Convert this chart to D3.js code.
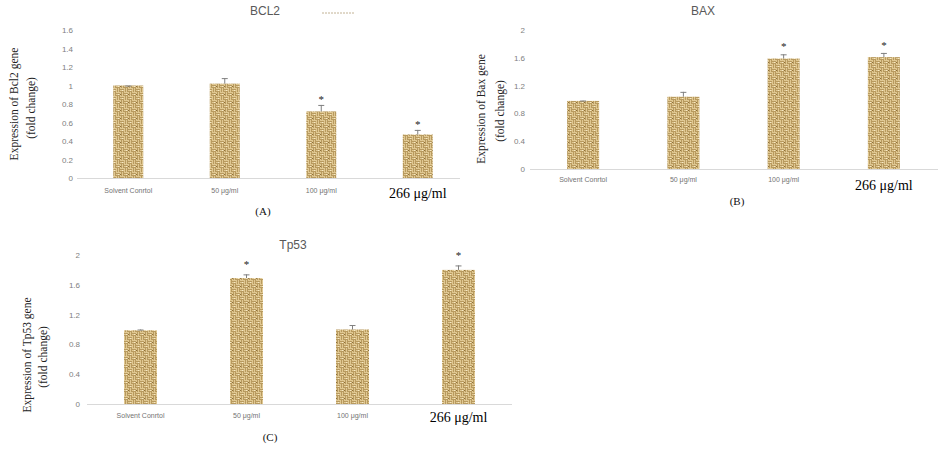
<!DOCTYPE html>
<html>
<head>
<meta charset="utf-8">
<script src="https://cdn.jsdelivr.net/npm/d3@7"></script>
<style>
  html, body { margin: 0; padding: 0; background: #fff; }
  svg { display: block; }
</style>
</head>
<body>
<svg id="chart" width="939" height="450"></svg>
<script>
// ---------- data ----------
const categories = ["Solvent Conrtol", "50 μg/ml", "100 μg/ml", "266 μg/ml"];

const bcl2Values = [1.0, 1.02, 0.72, 0.47];
const bcl2Errors = [0.0, 0.06, 0.07, 0.05];
const bcl2Signif = [false, false, true, true];
const bcl2Ticks  = [0, 0.2, 0.4, 0.6, 0.8, 1, 1.2, 1.4, 1.6];

const baxValues = [0.98, 1.04, 1.59, 1.61];
const baxErrors = [0.005, 0.07, 0.06, 0.06];
const baxSignif = [false, false, true, true];
const baxTicks  = [0, 0.4, 0.8, 1.2, 1.6, 2];

const tp53Values = [0.99, 1.69, 1.0, 1.80];
const tp53Errors = [0.01, 0.05, 0.06, 0.06];
const tp53Signif = [false, true, false, true];
const tp53Ticks  = [0, 0.4, 0.8, 1.2, 1.6, 2];

// ---------- drawing ----------
const svg = d3.select("#chart");
const defs = svg.append("defs");

// burlap-like woven texture
const pat = defs.append("pattern")
  .attr("id", "burlap").attr("patternUnits", "userSpaceOnUse")
  .attr("width", 8).attr("height", 8);
pat.append("rect").attr("width", 8).attr("height", 8).attr("fill", "#e0c892");
const weave = pat.append("g").attr("stroke", "#ad8e52").attr("stroke-width", 0.8);
[[0,1],[0,3]].forEach(([x,y]) => weave.append("line").attr("x1", x).attr("x2", x+4).attr("y1", y+0.5).attr("y2", y+0.5));
[[4,5],[4,7]].forEach(([x,y]) => weave.append("line").attr("x1", x).attr("x2", x+4).attr("y1", y+0.5).attr("y2", y+0.5));
[[5,0],[7,0]].forEach(([x,y]) => weave.append("line").attr("x1", x+0.5).attr("x2", x+0.5).attr("y1", y).attr("y2", y+4));
[[1,4],[3,4]].forEach(([x,y]) => weave.append("line").attr("x1", x+0.5).attr("x2", x+0.5).attr("y1", y).attr("y2", y+4));
pat.append("rect").attr("x", 2).attr("y", 2).attr("width", 1).attr("height", 1).attr("fill", "#f5e9c8");
pat.append("rect").attr("x", 6).attr("y", 6).attr("width", 1).attr("height", 1).attr("fill", "#f5e9c8");
pat.append("rect").attr("x", 0).attr("y", 6).attr("width", 1).attr("height", 1).attr("fill", "#8c6e38");

function drawPanel(p) {
  const g = svg.append("g");
  const x = d3.scaleBand().domain(categories).range(p.xRange).padding(0);
  const y = d3.scaleLinear().domain([0, p.ticks[p.ticks.length - 1]]).range(p.yRange);
  const bw = p.barW;

  // y axis (labels only)
  const yAxis = d3.axisLeft(y).tickValues(p.ticks).tickSize(0).tickPadding(0)
    .tickFormat(d => String(+d.toFixed(1)));
  const ya = g.append("g").attr("transform", `translate(${p.tickX},0)`).call(yAxis);
  ya.select(".domain").remove();
  ya.selectAll("text").attr("fill", "#808080").attr("font-family", "Liberation Sans, Arial, sans-serif")
    .attr("font-size", 8);

  // x axis baseline
  g.append("line").attr("x1", p.axisX[0]).attr("x2", p.axisX[1])
    .attr("y1", y(0) + 0.5).attr("y2", y(0) + 0.5)
    .attr("stroke", "#d9d9d9").attr("stroke-width", 1);

  // x labels
  const xAxis = d3.axisBottom(x).tickSize(0).tickPadding(0);
  const xa = g.append("g").attr("transform", `translate(0,${p.catY})`).call(xAxis);
  xa.select(".domain").remove();
  xa.selectAll("text").attr("dy", "0.35em")
    .attr("fill", "#737373").attr("font-family", "Liberation Sans, Arial, sans-serif")
    .attr("font-size", 7)
    .attr("transform", (d, i) => i === 3 ? `translate(0,${p.bigDy})` : null)
    .each(function (d, i) {
      if (i === 3) d3.select(this).attr("fill", "#000")
        .attr("font-family", "Liberation Serif, Times New Roman, serif").attr("font-size", 14);
    });

  const vals = p.values.map((v, i) => ({ c: categories[i], v, e: p.errors[i], s: p.signif[i] }));

  // bars
  g.selectAll("rect.bar").data(vals).join("rect").attr("class", "bar")
    .attr("x", d => x(d.c) + x.bandwidth() / 2 - bw / 2)
    .attr("width", bw)
    .attr("y", d => y(d.v))
    .attr("height", d => y(0) - y(d.v))
    .attr("fill", "url(#burlap)");

  // error bars (upper only)
  const eb = g.selectAll("g.err").data(vals).join("g").attr("class", "err")
    .attr("stroke", "#808080").attr("stroke-width", 1);
  eb.append("line")
    .attr("x1", d => x(d.c) + x.bandwidth() / 2).attr("x2", d => x(d.c) + x.bandwidth() / 2)
    .attr("y1", d => y(d.v)).attr("y2", d => y(d.v + d.e));
  eb.append("line")
    .attr("x1", d => x(d.c) + x.bandwidth() / 2 - 3).attr("x2", d => x(d.c) + x.bandwidth() / 2 + 3)
    .attr("y1", d => y(d.v + d.e) + 0.5).attr("y2", d => y(d.v + d.e) + 0.5);

  // significance stars
  g.selectAll("text.star").data(vals.filter(d => d.s)).join("text").attr("class", "star")
    .attr("x", d => x(d.c) + x.bandwidth() / 2)
    .attr("y", d => y(d.v + d.e) - p.starGap)
    .attr("text-anchor", "middle").attr("dominant-baseline", "middle")
    .attr("font-family", "Liberation Serif, serif").attr("font-size", 11)
    .attr("fill", "#222").attr("dy", "0.3em")
    .text("*");

  // title
  g.append("text").attr("x", p.title[1]).attr("y", p.title[2])
    .attr("text-anchor", "middle").attr("dominant-baseline", "middle")
    .attr("font-family", "Liberation Sans, Arial, sans-serif").attr("font-size", 12)
    .attr("fill", "#595959").text(p.title[0]);

  // y label (two lines)
  p.ylab.forEach(([txt, lx, ly]) => {
    g.append("text").attr("transform", `translate(${lx},${ly}) rotate(-90)`)
      .attr("text-anchor", "middle").attr("dominant-baseline", "middle")
      .attr("font-family", "Liberation Serif, Times New Roman, serif").attr("font-size", 11.5)
      .attr("fill", "#222").text(txt);
  });

  // panel letter
  g.append("text").attr("x", p.letter[1]).attr("y", p.letter[2])
    .attr("text-anchor", "middle").attr("dominant-baseline", "middle")
    .attr("font-family", "Liberation Serif, Times New Roman, serif").attr("font-size", 11)
    .attr("fill", "#111").text(p.letter[0]);

  return g;
}

const gA = drawPanel({
  values: bcl2Values, errors: bcl2Errors, signif: bcl2Signif, ticks: bcl2Ticks,
  xRange: [80, 466], yRange: [178, 30], barW: 30, tickX: 73, axisX: [77, 460],
  catY: 191, bigDy: 2, starGap: 8,
  title: ["BCL2", 265, 12],
  ylab: [["Expression  of Bcl2 gene", 15, 104], ["(fold  change)", 32, 108]],
  letter: ["(A)", 263, 212]
});
// small legend swatch next to BCL2 title
gA.append("line").attr("x1", 322).attr("x2", 355).attr("y1", 13).attr("y2", 13)
  .attr("stroke", "#b3a07a").attr("stroke-width", 0.8).attr("stroke-dasharray", "2,1");

drawPanel({
  values: baxValues, errors: baxErrors, signif: baxSignif, ticks: baxTicks,
  xRange: [533, 934], yRange: [169, 30], barW: 32, tickX: 525, axisX: [530, 938],
  catY: 180, bigDy: 5, starGap: 10,
  title: ["BAX", 703, 12],
  ylab: [["Expression  of Bax gene", 482, 109], ["(fold  change)", 501, 111]],
  letter: ["(B)", 737, 202]
});

drawPanel({
  values: tp53Values, errors: tp53Errors, signif: tp53Signif, ticks: tp53Ticks,
  xRange: [87.5, 511.5], yRange: [404, 255], barW: 33, tickX: 80, axisX: [87, 512],
  catY: 416, bigDy: 1, starGap: 12,
  title: ["Tp53", 293, 246],
  ylab: [["Expression  of Tp53 gene", 28, 355], ["(fold  change)", 44, 357]],
  letter: ["(C)", 270, 438]
});
</script>
</body>
</html>
